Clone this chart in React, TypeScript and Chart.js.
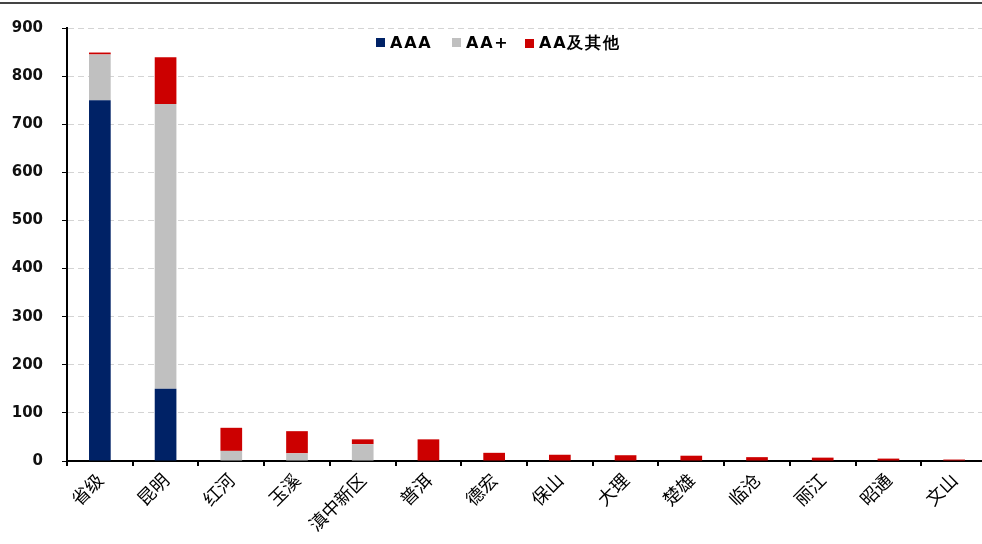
import React, { useEffect, useRef } from "react";
import { Chart, registerables } from "chart.js";

Chart.register(...registerables);

const categories = ["省级", "昆明", "红河", "玉溪", "滇中新区", "普洱", "德宏", "保山", "大理", "楚雄", "临沧", "丽江", "昭通", "文山"];
const seriesNames = ["AAA", "AA+", "AA及其他"];
const aaaValues = [750, 150, 0, 0, 0, 0, 0, 0, 0, 0, 0, 0, 0, 0];
const aaPlusValues = [95, 592, 21, 16, 35, 0, 0, 0, 0, 0, 0, 0, 0, 0];
const aaOtherValues = [4, 97, 48, 46, 10, 45, 17, 13, 12, 11, 8, 7, 5, 3];
const yTicks = [0, 100, 200, 300, 400, 500, 600, 700, 800, 900];

const colors = ["#002266", "#c0c0c0", "#cc0000"];

export default function App() {
  const ref = useRef<HTMLCanvasElement | null>(null);

  useEffect(() => {
    if (!ref.current) return;
    const chart = new Chart(ref.current, {
      type: "bar",
      data: {
        labels: categories,
        datasets: [aaaValues, aaPlusValues, aaOtherValues].map((d, i) => ({
          label: seriesNames[i],
          data: d,
          backgroundColor: colors[i],
          borderWidth: 0,
          barPercentage: 0.33,
          categoryPercentage: 1,
        })),
      },
      options: {
        animation: false,
        responsive: true,
        maintainAspectRatio: false,
        layout: { padding: { top: 25, right: 3, left: 0, bottom: 0 } },
        plugins: { legend: { display: false }, tooltip: { enabled: false } },
        scales: {
          x: {
            stacked: true,
            afterFit: (s: any) => {
              s.height = 83;
            },
            grid: {
              offset: true,
              drawOnChartArea: false,
              drawTicks: true,
              tickLength: 5,
              tickColor: "#000",
              lineWidth: 2,
            },
            border: { display: true, color: "#000", width: 2 },
            ticks: {
              autoSkip: false,
              maxRotation: 45,
              minRotation: 45,
              padding: 3,
              color: "#000",
              font: { family: "'Noto Sans CJK SC'", size: 18 },
            },
          },
          y: {
            stacked: true,
            min: 0,
            max: 900,
            afterFit: (s: any) => {
              s.width = 67;
            },
            afterBuildTicks: (s: any) => {
              s.ticks = yTicks.map((v) => ({ value: v }));
            },
            grid: {
              color: "#d4d4d4",
              lineWidth: 1,
              tickColor: "#000",
              tickLength: 5,
              tickBorderDash: [],
              drawTicks: true,
            } as any,
            border: { display: true, color: "#000", width: 2, dash: [6, 4] },
            ticks: {
              padding: 19,
              color: "#111",
              font: { family: "'DejaVu Sans'", size: 15, weight: "bold" },
            },
          },
        },
      },
    });
    return () => chart.destroy();
  }, []);

  const legendItem = (i: number, left: number) => (
    <div
      key={i}
      style={{
        position: "absolute",
        left,
        top: 33,
        display: "flex",
        alignItems: "center",
        fontFamily: "'DejaVu Sans'",
        fontWeight: "bold",
        fontSize: 16,
        letterSpacing: 1.8,
        color: "#000",
        whiteSpace: "nowrap",
      }}
    >
      <span style={{ display: "inline-block", width: 9, height: 9, background: colors[i], marginRight: 5 }} />
      <span>{seriesNames[i]}</span>
    </div>
  );

  return (
    <div style={{ position: "fixed", left: 0, top: 0, width: 982, height: 544, overflow: "hidden", background: "#fff" }}>
      <div style={{ position: "absolute", left: 0, top: 2, width: 982, height: 0, borderTop: "2px solid #444" }} />
      <div style={{ position: "absolute", left: 0, top: 0, width: 990, height: 544 }}>
        <canvas ref={ref} />
      </div>
      {legendItem(0, 376)}
      {legendItem(1, 452)}
      {legendItem(2, 525)}
    </div>
  );
}
